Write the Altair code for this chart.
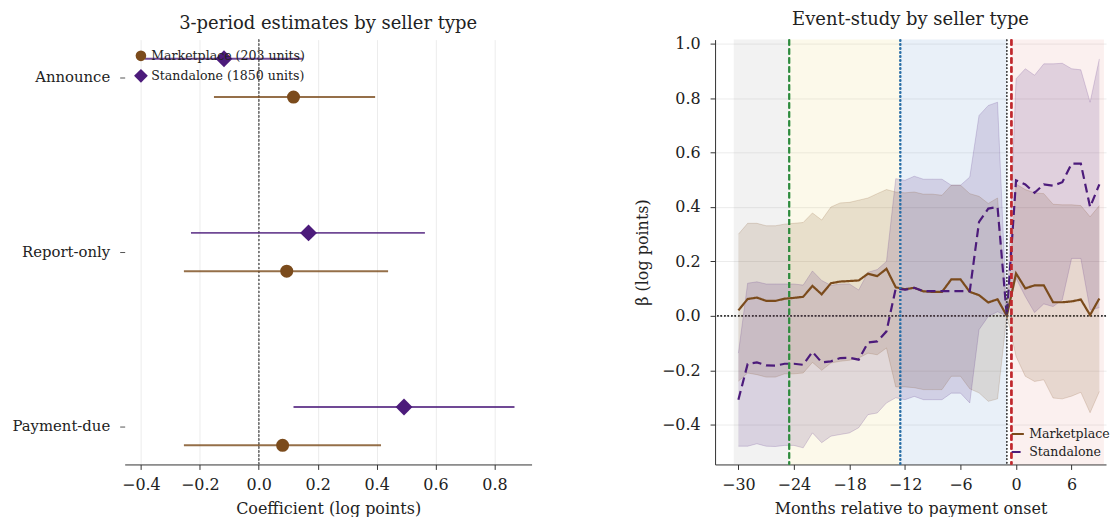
import altair as alt
import pandas as pd

FONT = "DejaVu Serif"
BROWN = "#7b4b1c"
PURPLE = "#4c1b7b"
TXT = "#222222"

# ---------------- left panel data ----------------
periods = ["Announce", "Report-only", "Payment-due"]
series = ["Marketplace", "Standalone"]
units = [203, 1850]
mkt_est = [0.118, 0.095, 0.081]
mkt_lo = [-0.152, -0.254, -0.254]
mkt_hi = [0.395, 0.439, 0.415]
std_est = [-0.118, 0.169, 0.493]
std_lo = [-0.386, -0.230, 0.118]
std_hi = [0.150, 0.564, 0.868]

# ---------------- right panel data ----------------
months = [-30, -29, -28, -27, -26, -25, -24, -23, -22, -21, -20, -19, -18, -17,
          -16, -15, -14, -13, -12, -11, -10, -9, -8, -7, -6, -5, -4, -3, -2, -1,
          0, 1, 2, 3, 4, 5, 6, 7, 8, 9]
mkt_beta = [0.020, 0.062, 0.067, 0.055, 0.055, 0.063, 0.066, 0.070, 0.110, 0.079,
            0.120, 0.126, 0.128, 0.130, 0.155, 0.146, 0.173, 0.105, 0.098, 0.103,
            0.090, 0.088, 0.088, 0.134, 0.134, 0.088, 0.076, 0.049, 0.061, 0.000,
            0.156, 0.101, 0.112, 0.112, 0.050, 0.050, 0.053, 0.060, 0.003, 0.064]
mkt_hi_es = [0.300, 0.340, 0.340, 0.331, 0.331, 0.337, 0.340, 0.343, 0.378, 0.352,
             0.400, 0.415, 0.417, 0.425, 0.433, 0.449, 0.464, 0.455, 0.452, 0.455,
             0.447, 0.447, 0.443, 0.480, 0.480, 0.449, 0.439, 0.413, 0.433, 0.000,
             0.484, 0.464, 0.452, 0.449, 0.410, 0.408, 0.408, 0.405, 0.364, 0.405]
mkt_lo_es = [-0.240, -0.210, -0.216, -0.225, -0.225, -0.213, -0.213, -0.210, -0.171, -0.200,
             -0.173, -0.167, -0.163, -0.155, -0.137, -0.143, -0.118, -0.261, -0.261, -0.264,
             -0.271, -0.271, -0.271, -0.222, -0.222, -0.268, -0.283, -0.314, -0.305, 0.000,
             -0.149, -0.222, -0.241, -0.235, -0.302, -0.305, -0.295, -0.281, -0.356, -0.278]
std_beta = [-0.308, -0.177, -0.171, -0.182, -0.183, -0.176, -0.176, -0.180, -0.132, -0.171,
            -0.167, -0.155, -0.154, -0.161, -0.098, -0.094, -0.057, 0.101, 0.096, 0.103,
            0.091, 0.091, 0.091, 0.091, 0.091, 0.091, 0.345, 0.394, 0.400, 0.000,
            0.498, 0.483, 0.452, 0.483, 0.478, 0.491, 0.559, 0.559, 0.400, 0.483]
std_hi_es = [-0.137, 0.120, 0.125, 0.117, 0.117, 0.117, 0.117, 0.113, 0.165, 0.130,
             0.112, 0.117, 0.117, 0.095, 0.160, 0.170, 0.200, 0.504, 0.498, 0.513,
             0.502, 0.502, 0.502, 0.480, 0.480, 0.510, 0.736, 0.773, 0.785, 0.000,
             0.871, 0.908, 0.884, 0.926, 0.926, 0.928, 0.908, 0.904, 0.785, 0.944]
std_lo_es = [-0.479, -0.479, -0.470, -0.479, -0.480, -0.476, -0.476, -0.485, -0.430, -0.466,
             -0.442, -0.436, -0.430, -0.411, -0.363, -0.357, -0.320, -0.301, -0.308, -0.296,
             -0.308, -0.308, -0.308, -0.284, -0.284, -0.320, -0.051, -0.002, 0.015, 0.000,
             0.138, 0.071, 0.012, 0.044, 0.034, 0.059, 0.211, 0.211, 0.022, 0.030]

span_start = [-30.5, -24.5, -12.5, -0.5]
span_end = [-24.5, -12.5, -1.0, 9.5]
span_color = ["#a8a8a8", "#ebd773", "#6c9bd0", "#e49b94"]

# ---------------- left panel ----------------
labels_l = [f"{s} ({u} units)" for s, u in zip(series, units)]
offset = 0.11
rows = []
for i, p in enumerate(periods):
    rows.append(dict(period=p, label=labels_l[0], ci_label=series[0], pos=i + offset,
                     est=mkt_est[i], lo=mkt_lo[i], hi=mkt_hi[i]))
    rows.append(dict(period=p, label=labels_l[1], ci_label=series[1], pos=i - offset,
                     est=std_est[i], lo=std_lo[i], hi=std_hi[i]))
left_df = pd.DataFrame(rows)

DIAMOND = "M-1.3,0L0,-1.3L1.3,0L0,1.3Z"
lab_expr = "[" + ",".join(f"'{p}'" for p in periods) + "][datum.value]"

xs_l = alt.Scale(domain=[-0.455, 0.926], nice=False, zero=False)
ax_l = alt.Axis(values=[-0.4, -0.2, 0.0, 0.2, 0.4, 0.6, 0.8], format=".1f",
                title="Coefficient (log points)", grid=True, gridColor="#ececec",
                domain=True, domainColor="#333", ticks=True, tickColor="#333",
                tickSize=5, labelFontSize=16, titleFontSize=16, labelPadding=7,
                titlePadding=8)
y_l = alt.Y("pos:Q", scale=alt.Scale(domain=[-0.22, 2.22], reverse=True, nice=False, zero=False),
            axis=alt.Axis(values=[0, 1, 2], labelExpr=lab_expr, title=None, grid=False,
                          domain=False, ticks=True, tickColor="#555", tickSize=5,
                          labelFontSize=14.9, labelPadding=10))
leg_l = alt.Legend(title=None, orient="none", legendX=10, legendY=10, labelFontSize=12.6,
                   symbolSize=113, rowPadding=6, labelFont=FONT, labelColor=TXT,
                   symbolStrokeWidth=0, padding=0)
col_l = alt.Color("label:N", scale=alt.Scale(domain=labels_l, range=[BROWN, PURPLE]), legend=leg_l)
shp_l = alt.Shape("label:N", scale=alt.Scale(domain=labels_l, range=["circle", DIAMOND]), legend=leg_l)

base_l = alt.Chart(left_df)
zero_l = base_l.mark_rule(color="#777", strokeDash=[2, 2], strokeWidth=1).encode(
    x=alt.datum(0, scale=xs_l))
ci_l = base_l.mark_rule(strokeWidth=2, opacity=0.8).encode(
    x=alt.X("lo:Q", scale=xs_l, axis=ax_l), x2="hi:Q", y=y_l,
    stroke=alt.Stroke("ci_label:N", scale=alt.Scale(domain=series, range=[BROWN, PURPLE]), legend=None))
pts_l = base_l.mark_point(filled=True, size=170, opacity=1).encode(
    x=alt.X("est:Q", scale=xs_l, axis=ax_l), y=y_l, color=col_l, shape=shp_l)

left = alt.layer(zero_l, ci_l, pts_l).properties(
    width=408, height=426,
    title=alt.TitleParams("3-period estimates by seller type", fontSize=18, font=FONT,
                          fontWeight="normal", anchor="middle", offset=6.5,
                          color=TXT))

# ---------------- right panel ----------------
es_rows = []
for i, m in enumerate(months):
    es_rows.append(dict(month=m, series=series[0], band=series[0], beta=mkt_beta[i],
                        lo=mkt_lo_es[i], hi=mkt_hi_es[i]))
for i, m in enumerate(months):
    es_rows.append(dict(month=m, series=series[1], band=series[1], beta=std_beta[i],
                        lo=std_lo_es[i], hi=std_hi_es[i]))
es_df = pd.DataFrame(es_rows)
span_df = pd.DataFrame(dict(start=span_start, end=span_end, c=span_color))

xs = alt.Scale(domain=[-32.52, 9.72], nice=False, zero=False)
ys = alt.Scale(domain=[-0.546, 1.015], nice=False, zero=False)
x_r_axis = alt.Axis(values=[-30, -24, -18, -12, -6, 0, 6], title="Months relative to payment onset",
                    grid=False, domain=True, domainColor="#333", ticks=True, tickColor="#333",
                    tickSize=5, labelFontSize=16, titleFontSize=16, labelPadding=7, titlePadding=8)
y_r_axis = alt.Axis(values=[-0.4, -0.2, 0.0, 0.2, 0.4, 0.6, 0.8, 1.0], format=".1f",
                    title="β (log points)", grid=True, gridColor="#ececec", domain=True,
                    domainColor="#333", ticks=True, tickColor="#333", tickSize=5,
                    labelFontSize=16, titleFontSize=16, labelPadding=10, titlePadding=11)

leg_r = alt.Legend(title=None, orient="none", legendX=296, legendY=388, padding=0,
                   labelFontSize=12.6, labelFont=FONT, labelColor=TXT,
                   symbolType="stroke", symbolSize=150, symbolStrokeWidth=2, rowPadding=3)
band_scale = alt.Scale(domain=series, range=[BROWN, PURPLE])

spans = alt.Chart(span_df).mark_rect(opacity=0.15).encode(
    x=alt.X("start:Q", scale=xs, axis=x_r_axis), x2="end:Q",
    fill=alt.Fill("c:N", scale=None, legend=None))
zero_r = alt.Chart(span_df).mark_rule(color="#333", strokeDash=[1.5, 2], strokeWidth=1).encode(
    y=alt.datum(0, scale=ys))
bands = alt.Chart(es_df).mark_area(fillOpacity=0.15).encode(
    x=alt.X("month:Q", scale=xs, axis=x_r_axis),
    y=alt.Y("lo:Q", scale=ys, axis=y_r_axis), y2="hi:Q",
    fill=alt.Fill("band:N", scale=band_scale, legend=None))
edges = []
for s, col in zip(series, [BROWN, PURPLE]):
    for fld in ["hi", "lo"]:
        edges.append(alt.Chart(es_df).transform_filter(alt.datum.band == s).mark_line(
            strokeWidth=1, strokeOpacity=0.18, color=col).encode(
            x=alt.X("month:Q", scale=xs, axis=x_r_axis),
            y=alt.Y(f"{fld}:Q", scale=ys, axis=y_r_axis)))
lines = alt.Chart(es_df).mark_line(strokeWidth=2.2).encode(
    x=alt.X("month:Q", scale=xs, axis=x_r_axis),
    y=alt.Y("beta:Q", scale=ys, axis=y_r_axis),
    color=alt.Color("series:N", scale=alt.Scale(domain=series, range=[BROWN, PURPLE]), legend=leg_r),
    strokeDash=alt.StrokeDash("series:N", scale=alt.Scale(domain=series, range=[[1, 0], [9, 5]]),
                              legend=leg_r))

event_lines = [-24.5, -12.5, -1.0, -0.5]
vl_colors = ["#2e8b3e", "#2a6fa8", "#444444", "#c0282d"]
vl_dash = [[6, 3], [2, 2], [1.5, 2], [6, 3]]
vl_width = [1.6, 1.6, 1.0, 1.8]
vlines = [alt.Chart(span_df).mark_rule(color=c, strokeDash=d, strokeWidth=w).encode(x=alt.datum(v, scale=xs))
          for v, c, d, w in zip(event_lines, vl_colors, vl_dash, vl_width)]

right = alt.layer(spans, zero_r, bands, *edges, lines, *vlines).resolve_scale(
    fill="independent").properties(
    width=392, height=426,
    title=alt.TitleParams("Event-study by seller type", fontSize=18, font=FONT,
                          fontWeight="normal", anchor="middle", offset=6.5,
                          color=TXT))

chart = alt.hconcat(left, right, spacing=103).resolve_scale(
    color="independent", shape="independent", strokeDash="independent", stroke="independent",
    fill="independent", x="independent", y="independent"
).properties(padding={"left": 3, "top": 2, "right": 0, "bottom": 0}).configure_axis(
    labelFont=FONT, titleFont=FONT, labelColor=TXT, titleColor=TXT, titleFontWeight="normal"
).configure_view(stroke=None).configure_legend(labelFont=FONT)

chart.save("out.html", embed_options={"renderer": "svg", "actions": False})
